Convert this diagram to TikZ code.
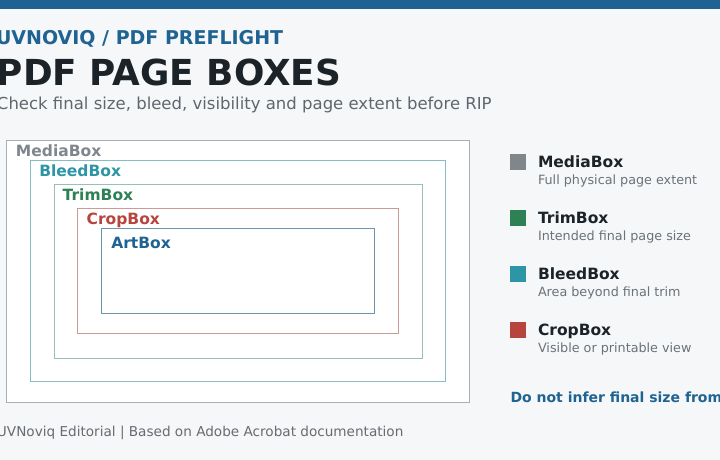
\documentclass[tikz,border=0pt]{standalone}
\usepackage{fontspec}
\setmainfont{DejaVu Sans}
\definecolor{bg}{HTML}{F5F7F9}
\definecolor{brand}{HTML}{1F6392}
\definecolor{ink}{HTML}{1B2329}
\definecolor{subgray}{HTML}{5F666D}
\definecolor{footgray}{HTML}{666C72}
\definecolor{descgray}{HTML}{6B7278}
\definecolor{cmedia}{HTML}{7F868C}
\definecolor{ctrim}{HTML}{2E8055}
\definecolor{cbleed}{HTML}{2E95A6}
\definecolor{ccrop}{HTML}{B8443E}
\definecolor{smedia}{HTML}{A8B0B6}
\definecolor{sbleed}{HTML}{86BCC6}
\definecolor{strim}{HTML}{96C2B3}
\definecolor{scrop}{HTML}{CB9C97}
\definecolor{sart}{HTML}{6C95AE}
\tikzset{
  txt/.style={anchor=base west, inner sep=0pt, outer sep=0pt},
  boxlabel/.style={txt, font=\fontsize{15.5}{16}\selectfont\bfseries},
  legtitle/.style={txt, font=\fontsize{15.5}{16}\selectfont\bfseries, text=ink},
  legdesc/.style={txt, font=\fontsize{12.75}{13}\selectfont, text=descgray},
  swatch/.style={anchor=north west, inner sep=0pt, outer sep=0pt, minimum width=16pt, minimum height=16pt},
  pagebox/.style={line width=1pt, fill=white},
}
\begin{document}
\begin{tikzpicture}[x=1pt,y=-1pt]
\useasboundingbox (0,0) rectangle (720,460);
\fill[bg] (0,0) rectangle (720,460);
\fill[brand] (0,0) rectangle (720,9.3);
% header
\node[txt, font=\fontsize{19}{19}\selectfont\bfseries, text=brand] (kicker) at (-4,45) {UVNOVIQ / PDF PREFLIGHT};
\node[txt, font=\fontsize{35.8}{36}\selectfont\bfseries, text=ink] (title) at (-3,85.5) {PDF PAGE BOXES};
\node[txt, font=\fontsize{16.5}{17}\selectfont, text=subgray] (subtitle) at (-3,109.3) {Check final size, bleed, visibility and page extent before RIP};
% nested boxes
\draw[pagebox, draw=smedia] (6.3,140) rectangle (469.7,402.3);
\draw[pagebox, draw=sbleed] (30.3,160.7) rectangle (445.7,381.7);
\draw[pagebox, draw=strim] (54.3,184.3) rectangle (422,358);
\draw[pagebox, draw=scrop] (77.7,208.3) rectangle (398.3,333.7);
\draw[pagebox, draw=sart] (101.7,228.7) rectangle (374.3,313.3);
\node[boxlabel, text=cmedia] (lmedia) at (16,156.7) {MediaBox};
\node[boxlabel, text=cbleed] (lbleed) at (39.3,176.7) {BleedBox};
\node[boxlabel, text=ctrim] (ltrim) at (62.7,200.7) {TrimBox};
\node[boxlabel, text=ccrop] (lcrop) at (86.7,224.3) {CropBox};
\node[boxlabel, text=brand] (lart) at (111.3,248.7) {ArtBox};
% legend
\node[swatch, fill=cmedia] (s1) at (510,154) {};
\node[legtitle] (t1) at (538,167.3) {MediaBox};
\node[legdesc] (d1) at (538,184) {Full physical page extent};
\node[swatch, fill=ctrim] (s2) at (510,210) {};
\node[legtitle] (t2) at (538,223.3) {TrimBox};
\node[legdesc] (d2) at (538,240) {Intended final page size};
\node[swatch, fill=cbleed] (s3) at (510,266) {};
\node[legtitle] (t3) at (538,279.3) {BleedBox};
\node[legdesc] (d3) at (538,296) {Area beyond final trim};
\node[swatch, fill=ccrop] (s4) at (510,322) {};
\node[legtitle] (t4) at (538,335.3) {CropBox};
\node[legdesc] (d4) at (538,352) {Visible or printable view};
\node[txt, font=\fontsize{14}{14}\selectfont\bfseries, text=brand] (note) at (510.5,402.5) {Do not infer final size from};
% footer
\node[txt, font=\fontsize{13.6}{14}\selectfont, text=footgray] (footer) at (-3,436.5) {UVNoviq Editorial | Based on Adobe Acrobat documentation};
\end{tikzpicture}
\end{document}
